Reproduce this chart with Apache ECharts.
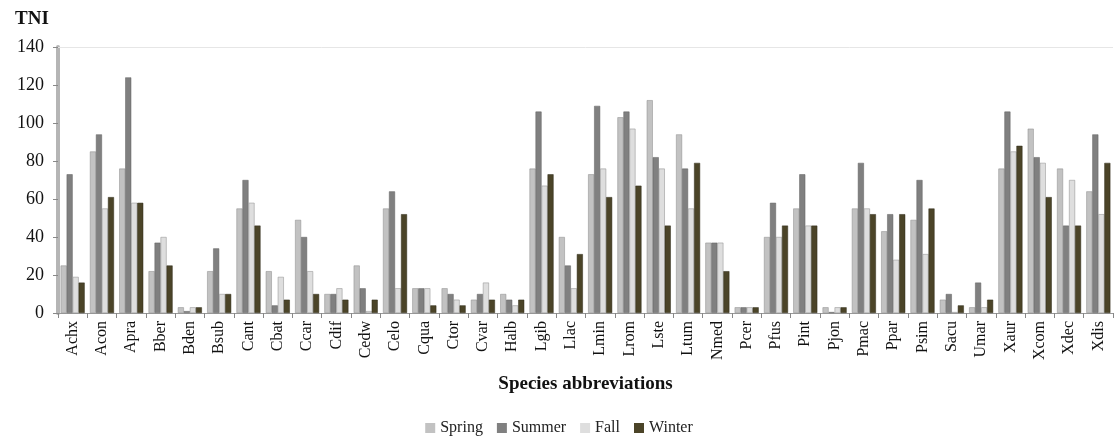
<!DOCTYPE html>
<html><head><meta charset="utf-8">
<script src="https://cdn.jsdelivr.net/npm/echarts@6/dist/echarts.min.js"></script>
<style>html,body{margin:0;padding:0;background:#fff}#c{width:1118px;height:443px}</style>
</head><body><div id="c"></div>
<script>
const categories = ["Achx","Acon","Apra","Bber","Bden","Bsub","Cant","Cbat","Ccar","Cdif","Cedw","Celo","Cqua","Ctor","Cvar","Halb","Lgib","Llac","Lmin","Lrom","Lste","Ltum","Nmed","Pcer","Pfus","Pint","Pjon","Pmac","Ppar","Psim","Sacu","Umar","Xaur","Xcom","Xdec","Xdis"];
const spring = [25,85,76,22,3,22,55,22,49,10,25,55,13,13,7,10,76,40,73,103,112,94,37,3,40,55,3,55,43,49,7,3,76,97,76,64];
const summer = [73,94,124,37,1,34,70,4,40,10,13,64,13,10,10,7,106,25,109,106,82,76,37,3,58,73,0.5,79,52,70,10,16,106,82,46,94];
const fall   = [19,55,58,40,3,10,58,19,22,13,1,13,13,7,16,4,67,13,76,97,76,55,37,3,40,46,3,55,28,31,0.5,3,85,79,70,52];
const winter = [16,61,58,25,3,10,46,7,10,7,7,52,4,4,7,7,73,31,61,67,46,79,22,3,46,46,3,52,52,55,4,7,88,61,46,79];
const seriesNames = ["Spring","Summer","Fall","Winter"];
const yTicks = [0,20,40,60,80,100,120,140];

const colors = ["#c2c2c2","#808080","#dedede","#4b4428"];
const dataSets = [spring, summer, fall, winter];
const serif = "Liberation Serif";

const chart = echarts.init(document.getElementById('c'), null, {renderer:'canvas'});
chart.setOption({
  animation:false,
  title:{text:"TNI", left:10, top:5, textStyle:{fontFamily:serif, fontWeight:'bold', fontSize:19, color:'#111'}},
  grid:{left:58, right:5, top:47, bottom:130, containLabel:false},
  legend:{data:seriesNames, bottom:2, left:'center', itemWidth:10, itemHeight:10, itemGap:14, icon:'rect',
    itemStyle:{borderWidth:0},
    textStyle:{fontFamily:serif, fontSize:16, color:'#222'}},
  xAxis:{type:'category', data:categories, name:"Species abbreviations", nameLocation:'middle', nameGap:62,
    nameTextStyle:{fontFamily:serif, fontWeight:'bold', fontSize:19, color:'#111'},
    axisLine:{lineStyle:{color:'#999', width:1}},
    axisTick:{show:true, alignWithLabel:false, lineStyle:{color:'#888'}, length:5},
    axisLabel:{rotate:90, fontFamily:serif, fontSize:16, color:'#111', interval:0, margin:8}},
  yAxis:{type:'value', min:yTicks[0], max:yTicks[yTicks.length-1], interval:20,
    axisLine:{show:true, lineStyle:{color:'#b5b5b5', width:4}},
    axisTick:{show:true, lineStyle:{color:'#888'}, length:5},
    splitLine:{show:false},
    axisLabel:{fontFamily:serif, fontSize:18, color:'#111', margin:14}},
  series: seriesNames.map((n,i)=>({
    name:n, type:'bar', data:dataSets[i], barGap:'0%', barCategoryGap:'18%',
    itemStyle:{color:colors[i], borderColor: i===3 ? '#2e2a18' : (i===1 ? '#5e5e5e' : '#8a8a8a'), borderWidth:0.5},
    markLine: i===0 ? {silent:true, symbol:'none', label:{show:false}, lineStyle:{color:'#e6e6e6', type:'solid', width:1}, data:[{yAxis:140}]} : undefined
  }))
});
</script></body></html>
